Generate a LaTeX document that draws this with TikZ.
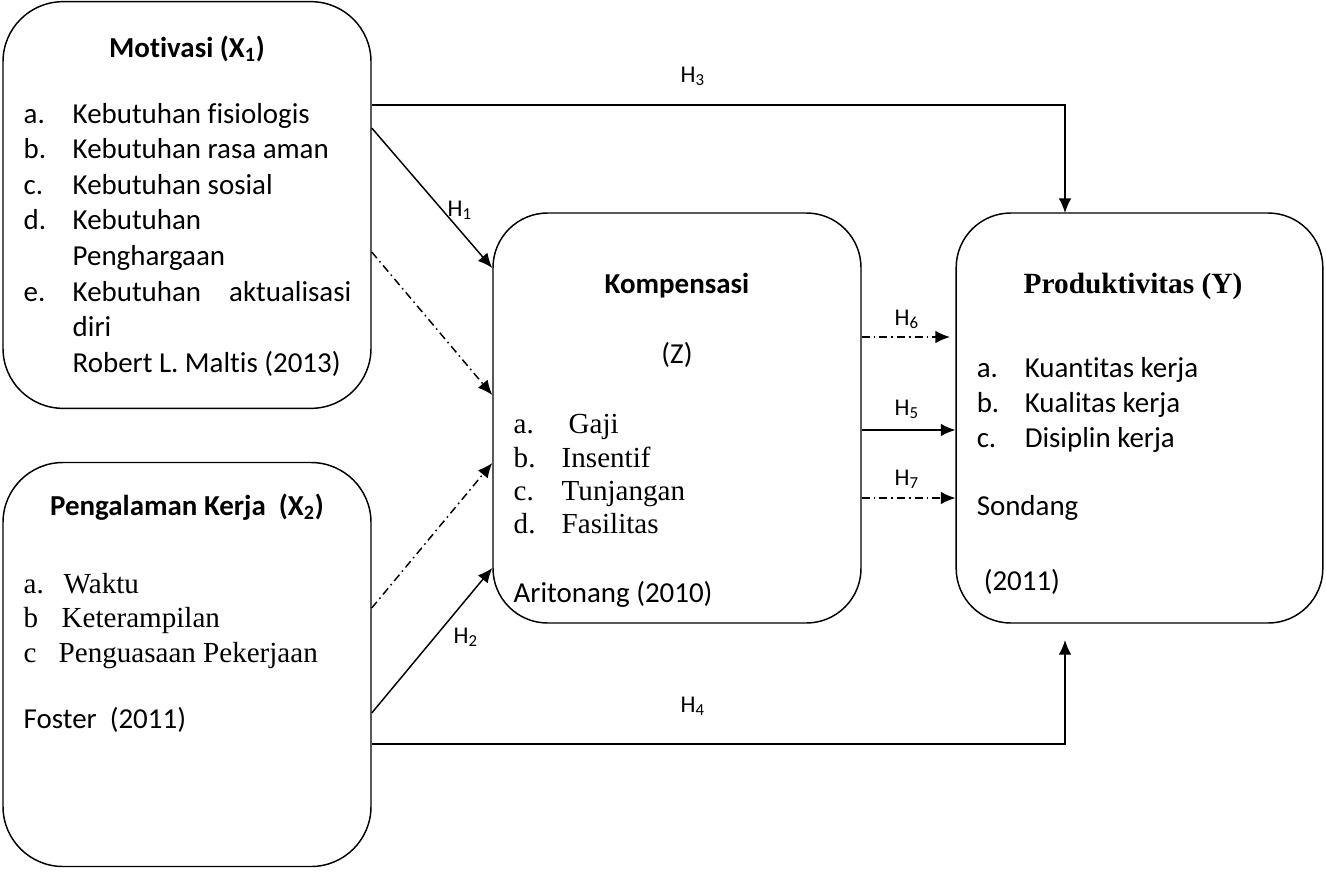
\documentclass[tikz,border=0pt]{standalone}
\usepackage{fontspec}
\setmainfont[Ligatures=NoCommon]{Carlito}
\newfontfamily\tnr{Liberation Serif}
\usetikzlibrary{arrows.meta,calc}
\begin{document}
\begin{tikzpicture}[x=0.75pt,y=-0.75pt,line width=1.1pt,
  box/.style={draw,rectangle,inner sep=0pt},
  txt/.style={anchor=base west,inner sep=0pt,font=\fontsize{21.7}{26}\selectfont},
  ttl/.style={anchor=base,inner sep=0pt,font=\fontsize{21.7}{26}\selectfont\bfseries},
  ser/.style={anchor=base west,inner sep=0pt,font=\tnr\fontsize{21.8}{26}\selectfont},
  hl/.style={anchor=base west,inner sep=0pt,font=\fontsize{18}{21}\selectfont},
  conn/.style={-{Latex[length=11pt,width=9.5pt]}},
  dd/.style={conn,dash pattern=on 6pt off 3pt on 1.2pt off 3pt}]
\useasboundingbox (0,0) rectangle (1326,871);
% boxes
\node[box,rounded corners=45pt,minimum width=276pt,minimum height=305pt] (x1) at (187,205) {};
\node[box,rounded corners=45pt,minimum width=276pt,minimum height=303pt] (x2) at (187,664.5) {};
\node[box,rounded corners=41pt,minimum width=276pt,minimum height=307.5pt] (z) at (677,418) {};
\node[box,rounded corners=41pt,minimum width=275pt,minimum height=307.5pt] (y) at (1139.5,418) {};
% X1 texts
\node[ttl] (t1) at (187,57) {Motivasi (X\textsubscript{1})};
\node[txt] (a1) at (23,123) {a.};
\node[txt] (a1t) at (72,123) {Kebutuhan fisiologis};
\node[txt] (b1) at (23,158) {b.};
\node[txt] (b1t) at (72,158) {Kebutuhan rasa aman};
\node[txt] (c1) at (23,194) {c.};
\node[txt] (c1t) at (72,194) {Kebutuhan sosial};
\node[txt] (d1) at (23,229) {d.};
\node[txt] (d1t) at (72,229) {Kebutuhan};
\node[txt] (d1u) at (72,265) {Penghargaan};
\node[txt] (e1) at (23,301) {e.};
\node[txt] (e1t) at (72,301) {Kebutuhan};
\node[txt,anchor=base east] (e1u) at (352,301) {aktualisasi};
\node[txt] (e1v) at (72,336) {diri};
\node[txt] (r1) at (72,372) {Robert L. Maltis (2013)};
% X2 texts
\node[ttl] (t2) at (187,515) {Pengalaman Kerja\ \ (X\textsubscript{2})};
\node[ser] (a2) at (23,593) {a.};
\node[ser] (a2t) at (63,593) {Waktu};
\node[ser] (b2) at (23,627) {b};
\node[ser] (b2t) at (61,627) {Keterampilan};
\node[ser] (c2) at (23,662) {c};
\node[ser] (c2t) at (58,662) {Penguasaan Pekerjaan};
\node[txt] (r2) at (23,728) {Foster\ \ (2011)};
% Z texts
\node[ttl] (t3) at (677,293) {Kompensasi};
\node[txt,anchor=base] (zz) at (677,363) {(Z)};
\node[ser] (a3) at (513,433) {a.};
\node[ser] (a3t) at (568,433) {Gaji};
\node[ser] (b3) at (513,467) {b.};
\node[ser] (b3t) at (561,467) {Insentif};
\node[ser] (c3) at (513,500) {c.};
\node[ser] (c3t) at (561,500) {Tunjangan};
\node[ser] (d3) at (513,533) {d.};
\node[ser] (d3t) at (561,533) {Fasilitas};
\node[txt] (r3) at (513,602) {Aritonang (2010)};
% Y texts
\node[ser,anchor=base,font=\tnr\fontsize{22}{26}\selectfont\bfseries] (t4) at (1133,293) {Produktivitas (Y)};
\node[txt] (a4) at (976,377) {a.};
\node[txt] (a4t) at (1024,377) {Kuantitas kerja};
\node[txt] (b4) at (976,412) {b.};
\node[txt] (b4t) at (1024,412) {Kualitas kerja};
\node[txt] (c4) at (976,447) {c.};
\node[txt] (c4t) at (1024,447) {Disiplin kerja};
\node[txt] (s4) at (976,515) {Sondang};
\node[txt] (r4) at (983,590) {(2011)};
% connectors
\coordinate (h3t) at (1065,213);
\coordinate (h4t) at (1065,640);
\coordinate (h6t) at (950,337);
\draw[conn] (x1.east |- 0,105) -| (h3t);
\draw[conn] (x1.east |- 0,128) -- (z.west |- 0,268);
\draw[dd] (x1.east |- 0,252) -- (z.west |- 0,395);
\draw[dd] (x2.east |- 0,608) -- (z.west |- 0,463);
\draw[conn] (x2.east |- 0,713) -- (z.west |- 0,568);
\draw[conn] (x2.east |- 0,744) -| (h4t);
\draw[dd] (z.east |- 0,337) -- (h6t);
\draw[conn] (z.east |- 0,430) -- (y.west |- 0,430);
\draw[dd] (z.east |- 0,498) -- (y.west |- 0,498);
% labels
\node[hl] (l1) at (447,216) {H\textsubscript{1}};
\node[hl] (l2) at (453,643) {H\textsubscript{2}};
\node[hl] (l3) at (680,82) {H\textsubscript{3}};
\node[hl] (l4) at (680,712) {H\textsubscript{4}};
\node[hl] (l5) at (894,415) {H\textsubscript{5}};
\node[hl] (l6) at (894,325) {H\textsubscript{6}};
\node[hl] (l7) at (894,485) {H\textsubscript{7}};
\end{tikzpicture}
\end{document}
